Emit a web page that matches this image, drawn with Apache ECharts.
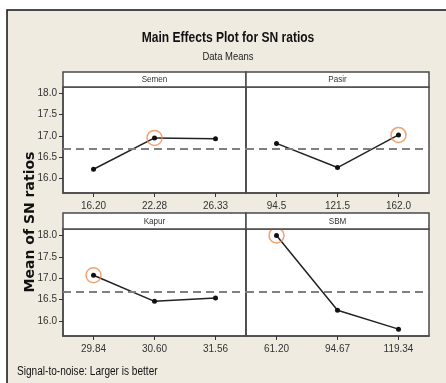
<!DOCTYPE html>
<html>
<head>
<meta charset="utf-8">
<script src="https://cdn.jsdelivr.net/npm/echarts@6/dist/echarts.min.js"></script>
<style>html,body{margin:0;padding:0;background:#fff;}#c{width:446px;height:383px;}</style>
</head>
<body>
<div id="c"></div>
<script>
// ---- data ----
const factorNames = ['Semen', 'Pasir', 'Kapur', 'SBM'];
const semenLevels = ['16.20', '22.28', '26.33'];
const pasirLevels = ['94.5', '121.5', '162.0'];
const kapurLevels = ['29.84', '30.60', '31.56'];
const sbmLevels = ['61.20', '94.67', '119.34'];
const semenSN = [16.21, 16.95, 16.93];
const pasirSN = [16.82, 16.25, 17.02];
const kapurSN = [17.07, 16.46, 16.54];
const sbmSN = [18.00, 16.25, 15.81];
const grandMean = 16.69;
const yTicks = [16.0, 16.5, 17.0, 17.5, 18.0];

const levels = [semenLevels, pasirLevels, kapurLevels, sbmLevels];
const values = [semenSN, pasirSN, kapurSN, sbmSN];

const FONT = '"Liberation Sans", Arial, sans-serif';
const ink = '#333';
const frame = '#4a4a4a';

// panel layout
const panels = [
  {left: 63, top: 87, width: 183, height: 106, showY: true},
  {left: 246, top: 87, width: 183, height: 106, showY: false},
  {left: 63, top: 229, width: 183, height: 107, showY: true},
  {left: 246, top: 229, width: 183, height: 107, showY: false}
];
const headerTops = [72, 72, 213, 213];

const grids = [], xAxes = [], yAxes = [], series = [], graphics = [];

graphics.push({type: 'rect', shape: {x: 7, y: 10, width: 460, height: 400},
  style: {fill: '#efebe1', stroke: '#111', lineWidth: 1.5}, z: -10});

panels.forEach((p, i) => {
  grids.push({left: p.left, top: p.top, width: p.width, height: p.height,
    show: true, backgroundColor: '#fff', borderColor: frame, borderWidth: 1.5});
  xAxes.push({type: 'category', gridIndex: i, data: levels[i], boundaryGap: true,
    axisLine: {show: true, lineStyle: {color: frame, width: 1.5}},
    axisTick: {show: true, alignWithLabel: true, length: 4, lineStyle: {color: ink}},
    axisLabel: {color: ink, fontFamily: FONT, fontSize: 10, margin: 8},
    splitLine: {show: false}});
  yAxes.push({type: 'value', gridIndex: i, min: 15.65, max: 18.15,
    axisLine: {show: true, lineStyle: {color: frame, width: 1.5}},
    axisTick: {show: p.showY, length: 4, customValues: yTicks, lineStyle: {color: ink}},
    axisLabel: {show: p.showY, customValues: yTicks, color: ink, fontFamily: FONT, fontSize: 10, margin: 6,
      formatter: v => v.toFixed(1)},
    splitLine: {show: false}});
  series.push({type: 'line', xAxisIndex: i, yAxisIndex: i, data: values[i],
    symbol: 'circle', symbolSize: 5, itemStyle: {color: '#111'},
    lineStyle: {color: '#222', width: 1.5}, z: 3, animation: false,
    markLine: {silent: true, symbol: 'none', label: {show: false},
      lineStyle: {color: '#808080', width: 2, type: [8, 5]},
      data: [{yAxis: grandMean}]}});
  // highlight best (largest) level
  let best = 0;
  values[i].forEach((v, k) => { if (v > values[i][best]) best = k; });
  series.push({type: 'scatter', xAxisIndex: i, yAxisIndex: i,
    data: [[best, values[i][best]]], symbol: 'circle', symbolSize: 15,
    itemStyle: {color: 'rgba(0,0,0,0)', borderColor: '#f08a4b', borderWidth: 1.5},
    z: 4, animation: false, silent: true});
  // header strip
  graphics.push({type: 'rect', shape: {x: p.left, y: headerTops[i], width: p.width, height: p.top - headerTops[i]},
    style: {fill: '#fff', stroke: frame, lineWidth: 1.5}, z: 5});
  graphics.push({type: 'text', x: p.left + p.width / 2, y: (headerTops[i] + p.top) / 2 + 0.5, scaleX: 0.9,
    style: {text: factorNames[i], fill: ink, font: '9px ' + FONT, textAlign: 'center', textVerticalAlign: 'middle'}, z: 6});
});

graphics.push({type: 'text', x: 30, y: 222, rotation: Math.PI / 2,
  style: {text: 'Mean of SN ratios', fill: '#111', font: 'bold 14px "DejaVu Sans", Verdana, sans-serif',
    textAlign: 'center', textVerticalAlign: 'middle'}, z: 6});
graphics.push({type: 'text', x: 228, y: 38, scaleX: 0.86,
  style: {text: 'Main Effects Plot for SN ratios', fill: '#111', font: 'bold 14px ' + FONT,
    textAlign: 'center', textVerticalAlign: 'middle'}, z: 6});
graphics.push({type: 'text', x: 228, y: 56.5, scaleX: 0.86,
  style: {text: 'Data Means', fill: '#222', font: '11px ' + FONT,
    textAlign: 'center', textVerticalAlign: 'middle'}, z: 6});
graphics.push({type: 'text', x: 17, y: 372, scaleX: 0.84,
  style: {text: 'Signal-to-noise: Larger is better', fill: '#111', font: '12px ' + FONT,
    textAlign: 'left', textVerticalAlign: 'middle'}, z: 6});

const chart = echarts.init(document.getElementById('c'), null, {renderer: 'canvas'});
chart.setOption({
  animation: false,
  grid: grids, xAxis: xAxes, yAxis: yAxes, series: series, graphic: graphics
});
</script>
</body>
</html>
